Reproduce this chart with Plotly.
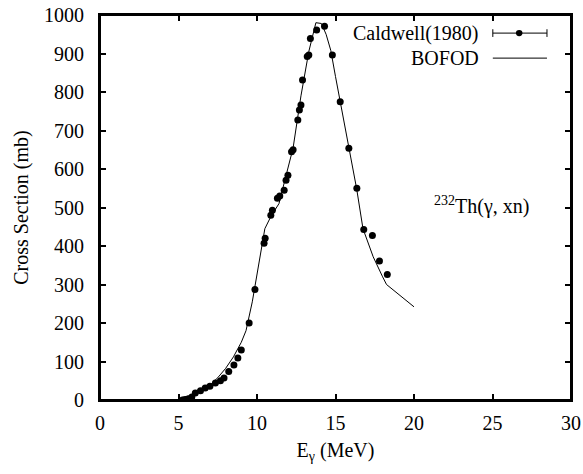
import plotly.graph_objects as go

# Caldwell(1980) measured points (E in MeV, cross section in mb)
cald_e = [5.25, 5.35, 5.45, 5.55, 5.65, 5.85, 6.07, 6.4, 6.7, 7.0, 7.35, 7.67, 7.9,
          8.2, 8.53, 8.78, 9.0, 9.5, 9.87, 10.45, 10.52, 10.88, 10.98, 11.3, 11.45,
          11.73, 11.85, 11.97, 12.2, 12.3, 12.6, 12.7, 12.8, 12.9, 13.2, 13.3, 13.4,
          13.8, 14.3, 14.8, 15.3, 15.85, 16.36, 16.8, 17.35, 17.8, 18.3]
cald_s = [0, 0, 1, 2, 3, 8, 18, 24, 31, 36, 44, 50, 57,
          74, 91, 109, 130, 200, 287, 407, 420, 480, 493, 524, 530,
          545, 571, 584, 645, 650, 727, 753, 766, 831, 892, 896, 939,
          961, 971, 896, 775, 654, 550, 443, 427, 361, 326]

# BOFOD evaluation curve
bofod_e = [5.3, 5.8, 6.5, 7.0, 7.5, 8.0, 8.5, 9.0, 9.3, 9.7, 10.1, 10.5, 10.9, 11.4,
           11.8, 12.3, 12.8, 13.3, 13.75, 14.1, 14.4, 14.7, 15.0, 15.3, 15.85, 16.35,
           16.75, 17.4, 18.0, 18.25, 20.0]
bofod_s = [0, 10, 25, 38, 58, 82, 112, 150, 180, 255, 345, 445, 478, 510,
           575, 655, 790, 905, 980, 978, 950, 908, 840, 775, 650, 548,
           445, 372, 320, 300, 242]

serif = "Liberation Serif"
fs = 20

fig = go.Figure()

fig.add_trace(go.Scatter(
    x=bofod_e, y=bofod_s, mode='lines', name='BOFOD',
    line=dict(color='black', width=1), showlegend=False
))

fig.add_trace(go.Scatter(
    x=cald_e, y=cald_s, mode='markers', name='Caldwell(1980)',
    marker=dict(color='black', size=7), showlegend=False
))

# legend drawn by hand: text on the left, sample on the right
legend_rows = [(0.953, 'Caldwell(1980)'), (0.888, 'BOFOD')]
for yy, txt in legend_rows:
    fig.add_annotation(xref='paper', yref='paper', x=0.808, y=yy, text=txt,
                       showarrow=False, xanchor='right', yanchor='middle',
                       font=dict(family=serif, size=fs, color='black'))
    fig.add_shape(type='line', xref='paper', yref='paper', x0=0.834, x1=0.949,
                  y0=yy, y1=yy, line=dict(color='black', width=1))
# end caps and dot of the Caldwell sample
for xx in (0.834, 0.949):
    fig.add_shape(type='line', xref='paper', yref='paper', x0=xx, x1=xx,
                  y0=0.943, y1=0.963, line=dict(color='black', width=1))
fig.add_shape(type='circle', xref='paper', yref='paper', x0=0.883, x1=0.897,
              y0=0.945, y1=0.961, fillcolor='black', line=dict(color='black', width=0))

# frame round the plot area
fig.add_shape(type='rect', xref='paper', yref='paper', x0=0, x1=1, y0=0, y1=1,
              line=dict(color='black', width=2), layer='above')

fig.add_annotation(x=24.3, y=506, text='<sup>232</sup>Th(γ, xn)', showarrow=False,
                   font=dict(family=serif, size=fs, color='black'))

axis_common = dict(
    showgrid=False, zeroline=False, showline=True, linecolor='black', linewidth=2,
    mirror='allticks', ticks='inside', ticklen=6, tickwidth=1.5, tickcolor='black',
    automargin=False, tickfont=dict(family=serif, size=fs, color='black'),
)

fig.update_xaxes(range=[0, 30], dtick=5, ticklabelstandoff=4,
                 title=dict(text='E<sub>γ</sub> (MeV)', font=dict(family=serif, size=fs, color='black'),
                            standoff=10),
                 **axis_common)
fig.update_yaxes(range=[0, 1000], dtick=100, ticklabelstandoff=10,
                 title=dict(text='Cross Section (mb)', font=dict(family=serif, size=fs, color='black'),
                            standoff=10),
                 **axis_common)

fig.update_layout(
    width=583, height=474,
    margin=dict(l=100, r=12, t=15, b=74),
    plot_bgcolor='white', paper_bgcolor='white',
)

# drop the page's default body margin so the figure fills the window exactly
fig.write_html("out.html", config={'displayModeBar': False},
               post_script="document.body.style.margin='0';document.body.style.overflow='hidden';")
